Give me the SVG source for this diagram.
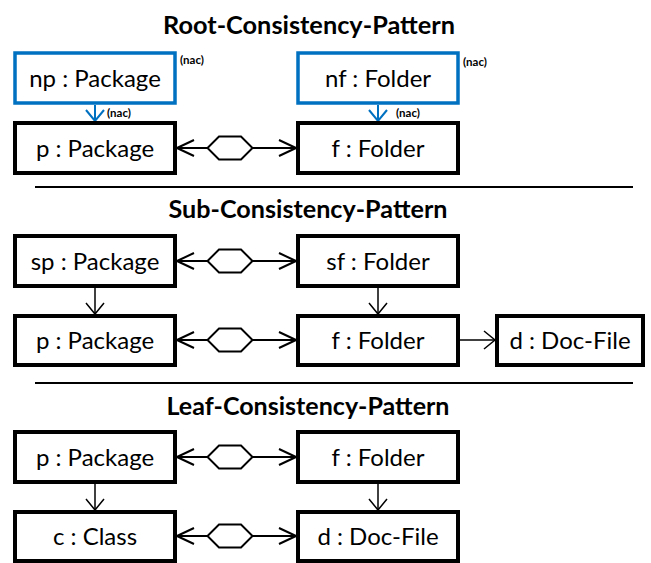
<svg xmlns="http://www.w3.org/2000/svg" width="651" height="563" viewBox="0 0 651 563">
<style>
.box{fill:#fff;stroke:#000;stroke-width:4}
.nac{fill:#fff;stroke:#0070C0;stroke-width:3.5}
.lbl{font-family:Lato,"Open Sans",sans-serif;font-size:24px;fill:#000;text-anchor:middle}
.ttl{font-family:Lato,"Open Sans",sans-serif;font-size:24px;font-weight:bold;fill:#000;text-anchor:middle}
.sm{font-family:Lato,"Open Sans",sans-serif;font-size:11.5px;font-weight:bold;fill:#000}
.h{stroke:#000;stroke-width:2;fill:none;marker-start:url(#ha);marker-end:url(#ha)}
.v{stroke:#000;stroke-width:1.5;fill:none;marker-end:url(#va)}
.b{stroke:#0070C0;stroke-width:2;fill:none;marker-end:url(#ba)}
.hex{fill:#fff;stroke:#000;stroke-width:2}
.div{stroke:#000;stroke-width:2}
</style>
<defs>
<marker id="ha" viewBox="-20 -10 22 20" refX="0" refY="0" markerWidth="22" markerHeight="20" markerUnits="userSpaceOnUse" orient="auto-start-reverse"><path d="M-17,-8 L0,0 L-17,8" fill="none" stroke="#000" stroke-width="2"/></marker>
<marker id="va" viewBox="-14 -11 16 22" refX="0" refY="0" markerWidth="16" markerHeight="22" markerUnits="userSpaceOnUse" orient="auto"><path d="M-11,-9 L0,0 L-11,9" fill="none" stroke="#000" stroke-width="1.5"/></marker>
<marker id="ba" viewBox="-14 -11 16 22" refX="0" refY="0" markerWidth="16" markerHeight="22" markerUnits="userSpaceOnUse" orient="auto"><path d="M-11,-9 L0,0 L-11,9" fill="none" stroke="#0070C0" stroke-width="2"/></marker>
<polygon id="hx" points="-22.5,0 -11,-11.5 11,-11.5 22.5,0 11,11.5 -11,11.5"/>
</defs>

<text class="ttl" x="309" y="34" textLength="292" lengthAdjust="spacingAndGlyphs">Root-Consistency-Pattern</text>
<text class="ttl" x="308" y="218" textLength="279" lengthAdjust="spacingAndGlyphs">Sub-Consistency-Pattern</text>
<text class="ttl" x="308" y="415" textLength="283" lengthAdjust="spacingAndGlyphs">Leaf-Consistency-Pattern</text>
<line class="div" x1="35" y1="187" x2="633" y2="187"/>
<line class="div" x1="35" y1="383" x2="633" y2="383"/>

<g id="connectors">
<line class="b" x1="95" y1="105" x2="95" y2="121"/>
<line class="b" x1="378" y1="105" x2="378" y2="121"/>
<text class="sm" x="180" y="64">(nac)</text>
<text class="sm" x="107" y="117">(nac)</text>
<text class="sm" x="463" y="66">(nac)</text>
<text class="sm" x="396" y="117">(nac)</text>
<line class="h" x1="177" y1="148" x2="296" y2="148"/>
<use href="#hx" class="hex" x="230" y="148"/>
<line class="h" x1="177" y1="261" x2="296" y2="261"/>
<use href="#hx" class="hex" x="230" y="261"/>
<line class="h" x1="177" y1="340" x2="296" y2="340"/>
<use href="#hx" class="hex" x="230" y="340"/>
<line class="v" x1="95" y1="288" x2="95" y2="314"/>
<line class="v" x1="378" y1="288" x2="378" y2="314"/>
<line class="v" x1="460" y1="340" x2="495" y2="340"/>
<line class="h" x1="177" y1="457" x2="296" y2="457"/>
<use href="#hx" class="hex" x="230" y="457"/>
<line class="h" x1="177" y1="536" x2="296" y2="536"/>
<use href="#hx" class="hex" x="230" y="536"/>
<line class="v" x1="95" y1="484" x2="95" y2="510"/>
<line class="v" x1="378" y1="484" x2="378" y2="510"/>
</g>

<g id="np"><rect class="nac" x="15" y="53" width="160" height="50"/><text class="lbl" x="95" y="87">np : Package</text></g>
<g id="nf"><rect class="nac" x="298" y="53" width="160" height="50"/><text class="lbl" x="378" y="87">nf : Folder</text></g>
<g id="p1"><rect class="box" x="15" y="123" width="160" height="50"/><text class="lbl" x="95" y="157">p : Package</text></g>
<g id="f1"><rect class="box" x="298" y="123" width="160" height="50"/><text class="lbl" x="378" y="157">f : Folder</text></g>

<g id="sp"><rect class="box" x="15" y="236" width="160" height="50"/><text class="lbl" x="95" y="270">sp : Package</text></g>
<g id="sf"><rect class="box" x="298" y="236" width="160" height="50"/><text class="lbl" x="378" y="270">sf : Folder</text></g>
<g id="p2"><rect class="box" x="15" y="316" width="160" height="49"/><text class="lbl" x="95" y="349">p : Package</text></g>
<g id="f2"><rect class="box" x="298" y="316" width="160" height="49"/><text class="lbl" x="378" y="349">f : Folder</text></g>
<g id="d2"><rect class="box" x="497" y="316" width="146" height="49"/><text class="lbl" x="570" y="349">d : Doc-File</text></g>

<g id="p3"><rect class="box" x="15" y="432" width="160" height="50"/><text class="lbl" x="95" y="466">p : Package</text></g>
<g id="f3"><rect class="box" x="298" y="432" width="160" height="50"/><text class="lbl" x="378" y="466">f : Folder</text></g>
<g id="c3"><rect class="box" x="15" y="512" width="160" height="49"/><text class="lbl" x="95" y="545">c : Class</text></g>
<g id="d3"><rect class="box" x="298" y="512" width="160" height="49"/><text class="lbl" x="378" y="545">d : Doc-File</text></g>
</svg>
